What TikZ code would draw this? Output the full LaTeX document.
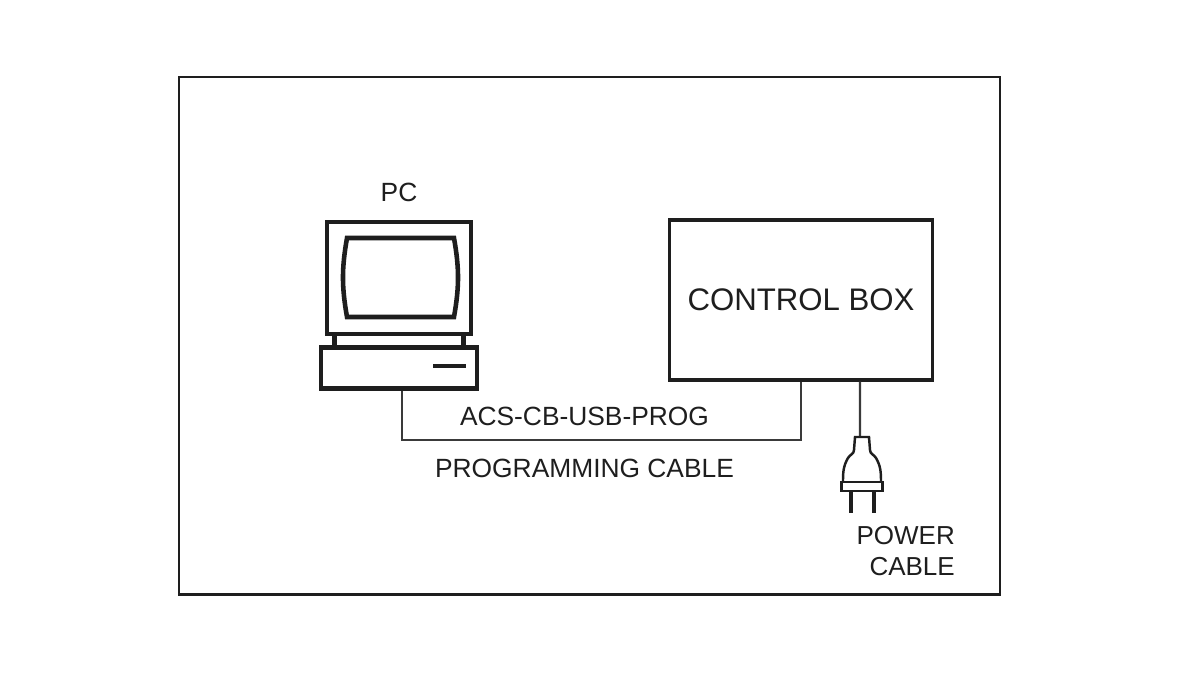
\documentclass[tikz,border=0pt]{standalone}
\usepackage{fontspec}
\setmainfont{Liberation Sans}
\usepackage{xcolor}
\definecolor{inkdark}{HTML}{1E1E1E}
\definecolor{inkline}{HTML}{3A3A3A}
\tikzset{
	caption/.style={text=inkdark, inner sep=0pt, font=\fontsize{7.5}{8.9}\selectfont},
	block/.style={draw=inkdark, line width=1.2pt, inner sep=0pt},
	cable/.style={draw=inkline, line width=.6pt}
}
\begin{document}
\begin{tikzpicture}
	\useasboundingbox (0,0) rectangle (12,-6.75);
	\fill[white] (0,0) rectangle (12,-6.75);
	\draw[inkdark, line width=.85pt] (1.79,-.77) rectangle (10,-5.94);
	% PC
	\node[block, minimum width=1.44cm, minimum height=1.12cm] (monitor) at (3.99,-2.78) {};
	\node[block, minimum width=1.56cm, minimum height=.41cm] (pcbase) at (3.99,-3.68) {};
	\draw[inkdark, line width=1.4pt] (3.345,-3.34) -- (3.345,-3.47);
	\draw[inkdark, line width=1.4pt] (4.635,-3.34) -- (4.635,-3.47);
	\draw[inkdark, line width=1.3pt] (3.47,-2.38) -- (4.54,-2.38) to [out=-80, in=80] (4.54,-3.17) -- (3.47,-3.17) to [out=100, in=-100] cycle;
	\draw[inkdark, line width=1.3pt] (4.33,-3.66) -- (4.66,-3.66);
	\node[caption] (pclabel) at (3.99,-1.92) {PC};
	% control box
	\node[block, line width=.95pt, minimum width=2.63cm, minimum height=1.6cm] (cbox) at (8.01,-3) {};
	\node[caption, font=\fontsize{8.87}{10}\selectfont] (cboxlabel) at (cbox.center) {CONTROL BOX};
	% programming cable
	\coordinate (bend) at (6,-4.4);
	\draw[cable] ([xshift=.03cm]pcbase.south) |- (bend) -| (cbox.south);
	\node[caption] (proglabel) at (5.845,-4.16) {ACS-CB-USB-PROG};
	\node[caption] (cablelabel) at (5.845,-4.68) {PROGRAMMING CABLE};
	% plug
	\coordinate (plugtop) at (8.6,-4.37);
	\draw[cable] ([xshift=.59cm]cbox.south) -- (plugtop);
	\draw[inkdark, line width=.7pt] (8.43,-4.82) to [out=90, in=-120] (8.48,-4.58) to [out=60, in=-90] (8.54,-4.5) -- (8.55,-4.37) -- (8.69,-4.37) -- (8.7,-4.5) to [out=-90, in=120] (8.76,-4.58) to [out=-60, in=90] (8.81,-4.82);
	\node[draw=inkdark, line width=.7pt, fill=white, inner sep=0pt, minimum width=.41cm, minimum height=.09cm] (collar) at (8.62,-4.865) {};
	\draw[inkdark, line width=1.2pt] (8.507,-4.92) -- (8.507,-5.13);
	\draw[inkdark, line width=1.2pt] (8.74,-4.92) -- (8.74,-5.13);
	\node[caption, align=right, anchor=north east, font=\fontsize{7.4}{8.8}\selectfont] (powerlabel) at (9.555,-5.255) {POWER\\CABLE};
\end{tikzpicture}
\end{document}
